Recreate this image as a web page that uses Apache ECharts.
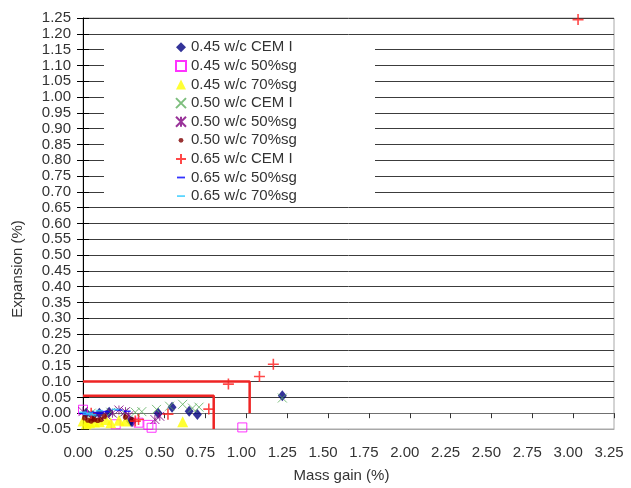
<!DOCTYPE html>
<html>
<head>
<meta charset="utf-8">
<script src="https://cdn.jsdelivr.net/npm/echarts@6/dist/echarts.min.js"></script>
<style>
html,body{margin:0;padding:0;background:#fff;}
#chart{width:631px;height:488px;}
</style>
</head>
<body>
<div id="chart"></div>
<script>
// ---- data ----
const seriesNames = ['0.45 w/c CEM I','0.45 w/c 50%sg','0.45 w/c 70%sg','0.50 w/c CEM I','0.50 w/c 50%sg','0.50 w/c 70%sg','0.65 w/c CEM I','0.65 w/c 50%sg','0.65 w/c 70%sg'];
const s045Cem = [[0.02,0.0],[0.06,-0.008],[0.10,0.0],[0.16,0.003],[0.29,-0.025],[0.30,-0.027],[0.46,0.0],[0.545,0.019],[0.65,0.006],[0.70,-0.004],[1.22,0.055]];
const s045Sg50 = [[0.0,0.011],[0.08,-0.052],[0.20,-0.035],[0.34,-0.03],[0.40,-0.037],[0.42,-0.046],[0.975,-0.045]];
const s045Sg70 = [[0.0,-0.025],[0.02,-0.033],[0.04,-0.03],[0.07,-0.028],[0.10,-0.027],[0.14,-0.02],[0.17,-0.03],[0.22,-0.022],[0.26,-0.025],[0.61,-0.027]];
const s050Cem = [[0.05,0.0],[0.17,0.003],[0.25,0.002],[0.32,0.003],[0.36,0.005],[0.45,0.012],[0.53,0.022],[0.61,0.028],[0.67,0.016],[0.71,0.019],[1.22,0.048]];
const s050Sg50 = [[0.0,0.005],[0.10,-0.01],[0.14,-0.005],[0.18,0.0],[0.22,0.01],[0.26,0.005],[0.28,-0.008],[0.44,-0.02],[0.47,-0.01]];
const s050Sg70 = [[0.01,-0.015],[0.03,-0.022],[0.05,-0.025],[0.06,-0.018],[0.07,-0.02],[0.09,-0.023],[0.11,-0.02],[0.13,-0.01],[0.26,-0.012],[0.30,-0.02]];
const s065Cem = [[0.05,0.0],[0.32,-0.025],[0.34,-0.02],[0.52,-0.003],[0.77,0.013],[0.89,0.092],[1.08,0.116],[1.165,0.155],[3.03,1.245]];
const s065Sg50 = [[0.0,0.0],[0.03,-0.003],[0.06,0.002],[0.10,0.0],[0.14,0.005],[0.22,0.01],[0.27,0.006]];
const s065Sg70 = [[0.0,0.003],[0.02,-0.003],[0.04,0.0],[0.06,-0.005],[0.10,0.008],[0.20,0.012]];
const frameOuter = [[0,0.10],[1.02,0.10],[1.02,0.0]];
const frameInner = [[0,0.055],[0.80,0.055],[0.80,-0.05]];
const xMin = 0, xMax = 3.25, xStep = 0.25;
const yMin = -0.05, yMax = 1.25, yStep = 0.05;

const font = "'Liberation Sans', Arial, sans-serif";
const chart = echarts.init(document.getElementById('chart'), null, {renderer:'canvas'});

const P_X = 'path://M0,0L10,10M10,0L0,10';
const P_AST = 'path://M0,0L10,10M10,0L0,10M5,0L5,10';
const P_PLUS = 'path://M5,0L5,10M0,5L10,5';
const P_DOT = 'path://M0,0M10,10M2.6,5a2.4,2.4 0 1,0 4.8,0a2.4,2.4 0 1,0 -4.8,0z';
const P_DASH = 'path://M0,0M10,10M1,4.1L9,4.1L9,5.9L1,5.9z';

function sc(name, data, symbol, size, style){
  return {type:'scatter', name:name, data:data, symbol:symbol, symbolSize:size, itemStyle:style, xAxisIndex:0, yAxisIndex:0, z:3};
}
const fmt = v => Number(v).toFixed(2);

chart.setOption({
  animation:false,
  backgroundColor:'#fff',
  textStyle:{fontFamily:font},
  grid:{left:83, right:17, top:18, bottom:56, show:true, borderColor:'#a8a8a8', borderWidth:1, backgroundColor:'transparent'},
  legend:{
    orient:'vertical', left:175, top:38, padding:0, itemGap:0, itemWidth:10, itemHeight:10,
    textStyle:{fontFamily:font, fontSize:15, color:'#333', lineHeight:18.6},
    data:seriesNames, z:20
  },
  graphic:[
    {type:'rect', z:10, shape:{x:104, y:36, width:271, height:171}, style:{fill:'#fff'}},
    {type:'text', z:10, x:18, y:269, rotation:Math.PI/2, style:{text:'Expansion (%)', font:'15px '+font, fill:'#333', align:'center', verticalAlign:'middle'}}
  ],
  xAxis:[
    {type:'value', min:xMin, max:xMax, interval:xStep, position:'bottom',
     axisLine:{onZero:false, lineStyle:{color:'#a8a8a8'}}, axisTick:{show:false}, splitLine:{show:false},
     axisLabel:{formatter:fmt, fontSize:15, color:'#333', margin:16, padding:[0,10,0,0]},
     name:'Mass gain (%)', nameLocation:'middle', nameGap:39, nameTextStyle:{fontSize:15, color:'#333', padding:[0,14,0,0]}},
    {type:'value', min:xMin, max:xMax, interval:xStep, position:'bottom',
     axisLine:{onZero:true, onZeroAxisIndex:0, lineStyle:{color:'#707070'}}, axisTick:{show:true, length:5, lineStyle:{color:'#333'}},
     axisLabel:{show:false}, splitLine:{show:false}}
  ],
  yAxis:[
    {type:'value', min:yMin, max:yMax, interval:yStep, position:'left',
     axisLine:{onZero:false, lineStyle:{color:'#000'}}, axisTick:{show:true, length:6, lineStyle:{color:'#000'}},
     splitLine:{show:true, lineStyle:{color:'#3c3c3c', width:1}},
     axisLabel:{formatter:fmt, fontSize:15, color:'#333', margin:12}},
    {type:'value', min:yMin, max:yMax, interval:yStep, position:'left',
     axisLine:{show:false}, axisTick:{show:true, inside:true, length:6, lineStyle:{color:'#000'}},
     axisLabel:{show:false}, splitLine:{show:false}}
  ],
  series:[
    {type:'line', data:frameOuter, symbol:'none', lineStyle:{color:'#ee2424', width:2.5}, z:4, silent:true},
    {type:'line', data:frameInner, symbol:'none', lineStyle:{color:'#ee2424', width:2.5}, z:4, silent:true},
    sc(seriesNames[0], s045Cem, 'diamond', [9,11], {color:'#000080'}),
    sc(seriesNames[1], s045Sg50, 'rect', 9, {color:'rgba(255,255,255,0)', borderColor:'#ff00ff', borderWidth:1}),
    sc(seriesNames[2], s045Sg70, 'triangle', 11, {color:'#ffff00'}),
    sc(seriesNames[3], s050Cem, P_X, 9, {color:'rgba(0,0,0,0)', borderColor:'#5cae5c', borderWidth:1}),
    sc(seriesNames[4], s050Sg50, P_AST, 9, {color:'rgba(0,0,0,0)', borderColor:'#800080', borderWidth:1}),
    sc(seriesNames[5], s050Sg70, P_DOT, 11, {color:'#800000'}),
    sc(seriesNames[6], s065Cem, P_PLUS, 11, {color:'rgba(0,0,0,0)', borderColor:'#ff1a1a', borderWidth:1.6}),
    sc(seriesNames[7], s065Sg50, P_DASH, 9, {color:'#0000ff'}),
    sc(seriesNames[8], s065Sg70, P_DASH, 9, {color:'#33ccff'})
  ]
});
</script>
</body>
</html>
